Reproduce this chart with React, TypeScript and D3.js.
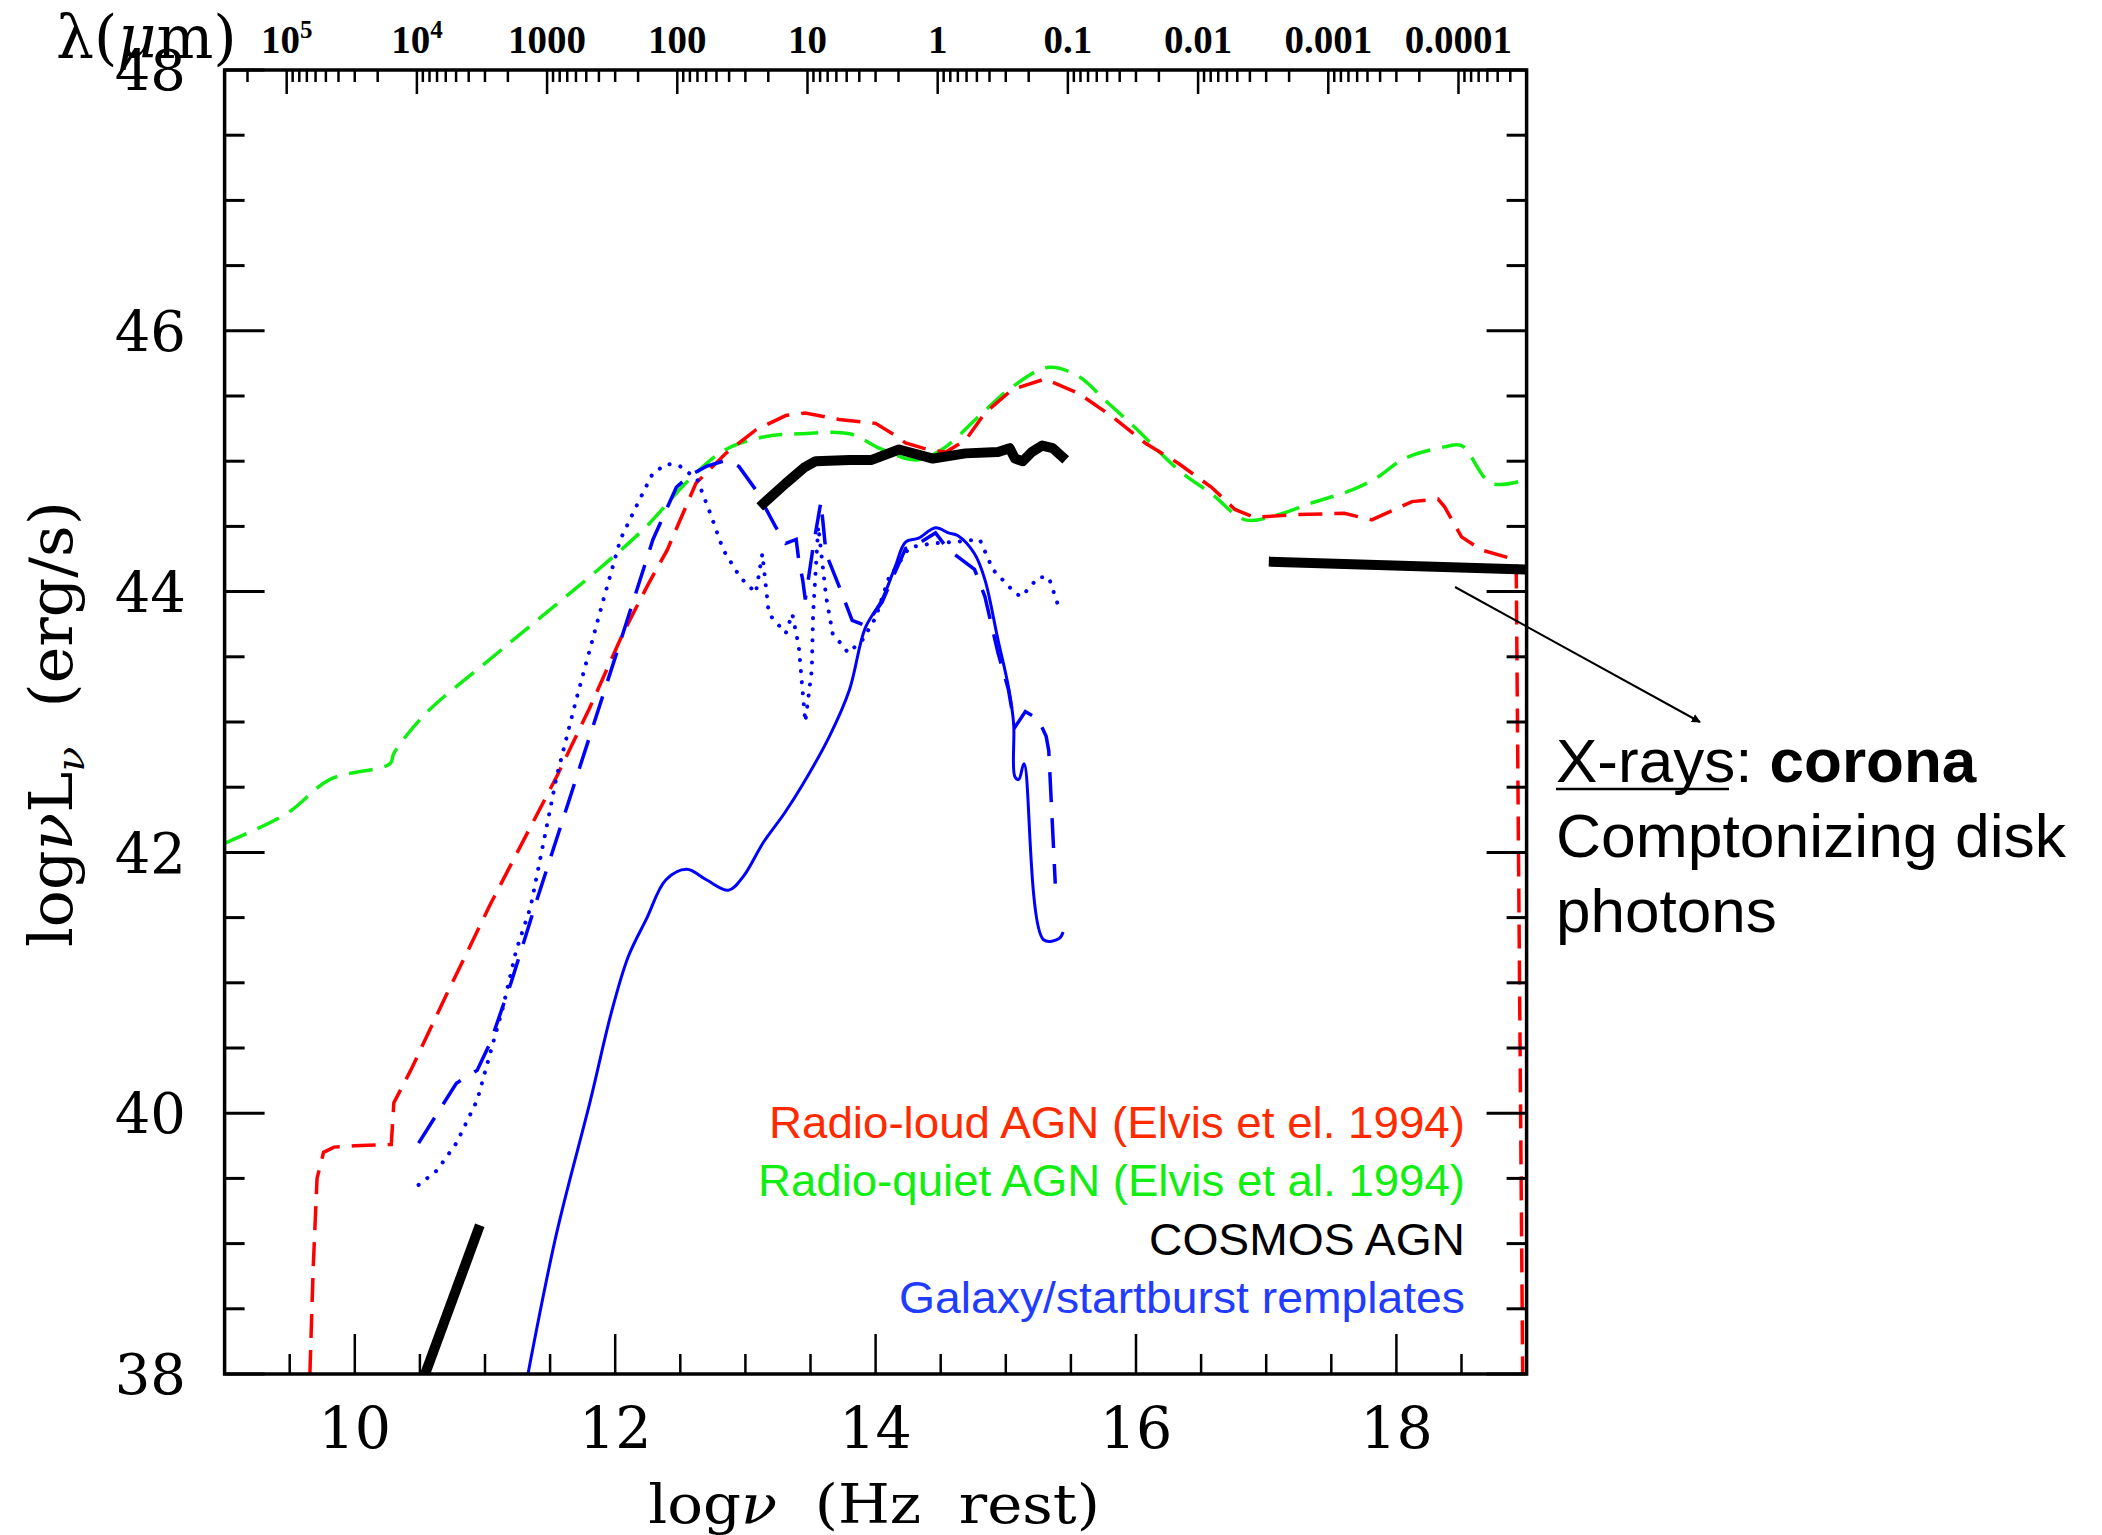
import React from "react";
import * as d3 from "d3";

// ---------- data (log nu [Hz], log nuL_nu [erg/s]) ----------
const radioLoud: [number, number][] = [
  [9.655, 38.0], [9.68, 38.8], [9.71, 39.5], [9.76, 39.7], [9.84, 39.74], [10.0, 39.75],
  [10.28, 39.76], [10.3, 40.08], [10.43, 40.33], [10.7, 40.9], [11.04, 41.6], [11.3, 42.1],
  [11.55, 42.58], [11.8, 43.1], [12.06, 43.68], [12.25, 44.05], [12.4, 44.32], [12.62, 44.83],
  [12.85, 45.06], [13.08, 45.24], [13.31, 45.35], [13.46, 45.37], [13.72, 45.32], [14.0, 45.29],
  [14.13, 45.21], [14.23, 45.14], [14.4, 45.09], [14.54, 45.07], [14.69, 45.16], [14.84, 45.37],
  [15.05, 45.55], [15.3, 45.63], [15.56, 45.52], [15.82, 45.34], [16.07, 45.14], [16.33, 44.98],
  [16.58, 44.8], [16.76, 44.63], [16.91, 44.57], [17.22, 44.59], [17.6, 44.6], [17.81, 44.55],
  [18.12, 44.69], [18.32, 44.71], [18.37, 44.65], [18.5, 44.42], [18.65, 44.32], [18.86, 44.26],
  [18.92, 44.22], [18.97, 38.0],
];

const radioQuiet: [number, number][] = [
  [9.0, 42.07], [9.48, 42.3], [9.81, 42.56], [10.27, 42.68], [10.3, 42.76], [10.55, 43.07],
  [11.0, 43.45], [11.4, 43.78], [11.93, 44.22], [12.24, 44.5], [12.57, 44.86], [12.85, 45.09],
  [13.16, 45.19], [13.41, 45.21], [13.8, 45.21], [14.05, 45.09], [14.31, 45.01], [14.51, 45.09],
  [14.82, 45.37], [15.05, 45.57], [15.33, 45.72], [15.56, 45.65], [15.76, 45.47], [15.99, 45.26],
  [16.33, 44.93], [16.58, 44.75], [16.84, 44.55], [17.09, 44.59], [17.35, 44.68], [17.66, 44.78],
  [17.86, 44.88], [18.06, 45.02], [18.37, 45.11], [18.5, 45.12], [18.73, 44.83], [19.0, 44.86],
];

const cosmosRadio: [number, number][] = [[10.54, 38.0], [10.96, 39.14]];
const cosmosOptUV: [number, number][] = [
  [13.11, 44.65], [13.31, 44.83], [13.45, 44.95], [13.54, 45.0], [13.8, 45.01], [13.97, 45.01],
  [14.18, 45.09], [14.44, 45.02], [14.69, 45.06], [14.94, 45.07], [15.03, 45.1], [15.07, 45.02],
  [15.13, 45.0], [15.2, 45.07], [15.28, 45.12], [15.36, 45.1], [15.46, 45.01],
];
const cosmosXray: [number, number][] = [[17.02, 44.23], [18.99, 44.17]];

const galaxySolid: [number, number][] = [
  [11.33, 38.0], [11.55, 39.08], [11.81, 40.1], [11.97, 40.77], [12.1, 41.2], [12.24, 41.49],
  [12.39, 41.79], [12.55, 41.87], [12.7, 41.79], [12.87, 41.71], [12.98, 41.81], [13.14, 42.08],
  [13.3, 42.3], [13.44, 42.52], [13.65, 42.9], [13.8, 43.25], [13.92, 43.72], [14.05, 43.94],
  [14.15, 44.19], [14.23, 44.38], [14.33, 44.41], [14.46, 44.49], [14.56, 44.45], [14.63, 44.43],
  [14.76, 44.29], [14.84, 44.09], [14.94, 43.63], [15.02, 43.27], [15.06, 42.99], [15.07, 42.58],
  [15.1, 42.56], [15.14, 42.68], [15.29, 41.33], [15.41, 41.34], [15.44, 41.39],
];

const galaxyDashed: [number, number][] = [
  [10.49, 39.77], [10.78, 40.23], [10.94, 40.33], [11.04, 40.54], [11.2, 41.0], [11.4, 41.64],
  [11.73, 42.66], [12.06, 43.68], [12.29, 44.4], [12.47, 44.8], [12.57, 44.89], [12.7, 44.96],
  [12.86, 45.01], [12.95, 44.96], [13.08, 44.78], [13.23, 44.5], [13.31, 44.37], [13.39, 44.4],
  [13.41, 44.24], [13.44, 44.09], [13.46, 43.94], [13.52, 44.34], [13.58, 44.69], [13.62, 44.29],
  [13.72, 44.04], [13.82, 43.78], [13.92, 43.74], [14.05, 43.92], [14.15, 44.15], [14.23, 44.33],
  [14.33, 44.37], [14.46, 44.45], [14.56, 44.32], [14.76, 44.17], [14.84, 43.96], [14.94, 43.53],
  [15.02, 43.25], [15.07, 42.96], [15.15, 43.08], [15.25, 43.02], [15.31, 42.89], [15.33, 42.78],
  [15.38, 41.76],
];

const galaxyDotted: [number, number][] = [
  [10.49, 39.45], [10.63, 39.56], [10.78, 39.77], [10.94, 40.1], [11.04, 40.46], [11.14, 40.82],
  [11.24, 41.25], [11.35, 41.58], [11.55, 42.58], [11.7, 43.17], [11.91, 43.94], [12.04, 44.4],
  [12.16, 44.65], [12.29, 44.91], [12.4, 44.98], [12.5, 44.96], [12.63, 44.86], [12.73, 44.6],
  [12.83, 44.32], [12.96, 44.11], [13.08, 43.99], [13.13, 44.29], [13.18, 43.83], [13.31, 43.68],
  [13.36, 43.83], [13.41, 43.58], [13.46, 43.0], [13.51, 43.4], [13.52, 43.83], [13.56, 44.5],
  [13.62, 43.96], [13.67, 43.68], [13.79, 43.53], [13.9, 43.63], [14.0, 43.8], [14.1, 44.1],
  [14.26, 44.34], [14.44, 44.37], [14.6, 44.38], [14.8, 44.4], [14.9, 44.17], [15.07, 43.99],
  [15.12, 43.96], [15.25, 44.11], [15.33, 44.11], [15.41, 43.87],
];

const xTickLabels = [10, 12, 14, 16, 18];
const yTickLabels = [38, 40, 42, 44, 46, 48];
const lambdaExponents = [5, 4, 3, 2, 1, 0, -1, -2, -3, -4];
const lambdaLabels = ["10^5", "10^4", "1000", "100", "10", "1", "0.1", "0.01", "0.001", "0.0001"];

const legendItems = [
  { text: "Radio-loud AGN (Elvis et el. 1994)", color: "#ff2a00", width: 696 },
  { text: "Radio-quiet AGN (Elvis et al. 1994)", color: "#11ee11", width: 707 },
  { text: "COSMOS AGN", color: "#000000", width: 316 },
  { text: "Galaxy/startburst remplates", color: "#1f3cff", width: 566 },
];

// ---------- layout ----------
const W = 2102, H = 1535;
const X0 = 224.6, X1 = 1526.6, Y0 = 70, Y1 = 1374;
const LOGC = Math.log10(2.998e14);

export default function App() {
  const x = d3.scaleLinear().domain([9, 19]).range([X0, X1]);
  const y = d3.scaleLinear().domain([38, 48]).range([Y1, Y0]);
  const line = d3.line<[number, number]>().x((d) => x(d[0])).y((d) => y(d[1]));
  const smooth = d3
    .line<[number, number]>()
    .x((d) => x(d[0]))
    .y((d) => y(d[1]))
    .curve(d3.curveCatmullRom.alpha(0.5));

  const halfSteps = d3.range(0, 21).map((i) => i * 0.5);
  const yTicks = halfSteps.map((v) => 38 + v);
  const xTicks = halfSteps.map((v) => 9 + v);
  const isMajor = (v: number) => Math.abs(v / 2 - Math.round(v / 2)) < 1e-6;

  // top axis: wavelength in micron
  const topTicks: { nu: number; major: boolean }[] = [];
  for (let k = 6; k >= -5; k--) {
    for (let m = 1; m <= 9; m++) {
      const nu = LOGC - (k + Math.log10(m));
      if (nu >= 9.0 && nu <= 19.0) topTicks.push({ nu, major: m === 1 });
    }
  }

  const serif = "'DejaVu Serif', serif";
  const topSerif = "'Liberation Serif', 'DejaVu Serif', serif";
  const sans = "'Liberation Sans', Arial, sans-serif";

  return (
    <svg
      width={W}
      height={H}
      style={{ position: "absolute", left: 0, top: 0, background: "#fff" }}
      xmlns="http://www.w3.org/2000/svg"
    >
      <defs>
        <clipPath id="plotClip">
          <rect x={X0} y={Y0} width={X1 - X0} height={Y1 - Y0} />
        </clipPath>
        <marker id="arrowHead" viewBox="0 0 10 10" refX="9" refY="5" markerWidth="9" markerHeight="9" orient="auto" markerUnits="userSpaceOnUse">
          <path d="M0,0 L10,5 L0,10 z" fill="#000" />
        </marker>
      </defs>
      <rect x={0} y={0} width={W} height={H} fill="#fff" />

      {/* curves */}
      <g clipPath="url(#plotClip)" fill="none">
        <path d={smooth(radioQuiet) || ""} stroke="#11ee11" strokeWidth={3.5} strokeDasharray="24 12" />
        <path d={line(radioLoud) || ""} stroke="#ff0000" strokeWidth={3.5} strokeDasharray="24 12" />
        <path d={line(galaxyDotted) || ""} stroke="#0000ff" strokeWidth={4} strokeDasharray="0.1 11" strokeLinecap="round" />
        <path d={line(galaxyDashed) || ""} stroke="#0000ff" strokeWidth={3.5} strokeDasharray="30 16" />
        <path d={smooth(galaxySolid) || ""} stroke="#0000ff" strokeWidth={3} />
        <path d={line(cosmosRadio) || ""} stroke="#000" strokeWidth={10} />
        <path d={line(cosmosOptUV) || ""} stroke="#000" strokeWidth={10} strokeLinejoin="round" />
        <path d={line(cosmosXray) || ""} stroke="#000" strokeWidth={10} />
      </g>

      {/* frame */}
      <rect x={X0} y={Y0} width={X1 - X0} height={Y1 - Y0} fill="none" stroke="#000" strokeWidth={3.5} />

      {/* left & right ticks */}
      {yTicks.map((v) => {
        const len = isMajor(v) ? 40 : 20;
        return (
          <g key={"yt" + v} stroke="#000" strokeWidth={3}>
            <line x1={X0} x2={X0 + len} y1={y(v)} y2={y(v)} />
            <line x1={X1} x2={X1 - len} y1={y(v)} y2={y(v)} />
          </g>
        );
      })}
      {/* bottom ticks */}
      {xTicks.map((v) => {
        const len = isMajor(v) ? 40 : 20;
        return <line key={"xt" + v} x1={x(v)} x2={x(v)} y1={Y1} y2={Y1 - len} stroke="#000" strokeWidth={2.5} />;
      })}
      {/* top wavelength ticks */}
      {topTicks.map((t, i) => (
        <line key={"tt" + i} x1={x(t.nu)} x2={x(t.nu)} y1={Y0} y2={Y0 + (t.major ? 24 : 12)} stroke="#000" strokeWidth={2.5} />
      ))}

      {/* y tick labels */}
      {yTickLabels.map((v) => (
        <text key={"yl" + v} x={186} y={y(v)} dy="0.36em" textAnchor="end" fontFamily={serif} fontSize={56} fill="#000">
          {v}
        </text>
      ))}
      {/* x tick labels */}
      {xTickLabels.map((v) => (
        <text key={"xl" + v} x={x(v)} y={1448} textAnchor="middle" fontFamily={serif} fontSize={57} fill="#000">
          {v}
        </text>
      ))}
      {/* top labels */}
      {lambdaExponents.map((k, i) => {
        const nu = LOGC - k;
        const lab = lambdaLabels[i];
        if (lab.includes("^")) {
          const [base, exp] = lab.split("^");
          return (
            <text key={"tl" + k} x={x(nu)} y={53} textAnchor="middle" fontFamily={topSerif} fontSize={39} fontWeight="bold" fill="#000">
              {base}
              <tspan fontSize={25} dy={-15}>{exp}</tspan>
            </text>
          );
        }
        return (
          <text key={"tl" + k} x={x(nu)} y={53} textAnchor="middle" fontFamily={topSerif} fontSize={39} fontWeight="bold" fill="#000">
            {lab}
          </text>
        );
      })}
      <text x={56} y={58} fontFamily={serif} fontSize={60} fill="#000">
        λ(<tspan fontStyle="italic">μ</tspan>m)
      </text>

      {/* axis titles */}
      <g transform="translate(874, 1523) scale(1.1, 1)">
        <text x={0} y={0} textAnchor="middle" fontFamily={serif} fontSize={54} fill="#000" style={{ whiteSpace: "pre" }}>
          log<tspan fontStyle="italic">ν</tspan>{"  (Hz  rest)"}
        </text>
      </g>
      <g transform="translate(72, 724) rotate(-90) scale(1.03, 1)">
        <text x={0} y={0} textAnchor="middle" fontFamily={serif} fontSize={60} fill="#000" style={{ whiteSpace: "pre" }}>
          log<tspan fontStyle="italic">ν</tspan>L<tspan fontSize={40} dy={12} fontStyle="italic">ν</tspan>
          <tspan dy={-12}>{"  (erg/s)"}</tspan>
        </text>
      </g>

      {/* legend */}
      {legendItems.map((it, i) => (
        <text
          key={it.text}
          x={1465}
          y={1138 + i * 58.4}
          textAnchor="end"
          fontFamily={sans}
          fontSize={44}
          fill={it.color}
          textLength={it.width}
          lengthAdjust="spacingAndGlyphs"
        >
          {it.text}
        </text>
      ))}

      {/* annotation */}
      <line x1={1455} y1={587} x2={1700} y2={722} stroke="#000" strokeWidth={2} markerEnd="url(#arrowHead)" />
      <text x={1556} y={782} fontFamily={sans} fontSize={62} fill="#000">
        X-rays: <tspan fontWeight="bold">corona</tspan>
      </text>
      <line x1={1556} x2={1729} y1={789} y2={789} stroke="#000" strokeWidth={2.5} />
      <text x={1556} y={857} fontFamily={sans} fontSize={62} fill="#000" textLength={510} lengthAdjust="spacingAndGlyphs">
        Comptonizing disk
      </text>
      <text x={1556} y={932} fontFamily={sans} fontSize={62} fill="#000">
        photons
      </text>
    </svg>
  );
}
